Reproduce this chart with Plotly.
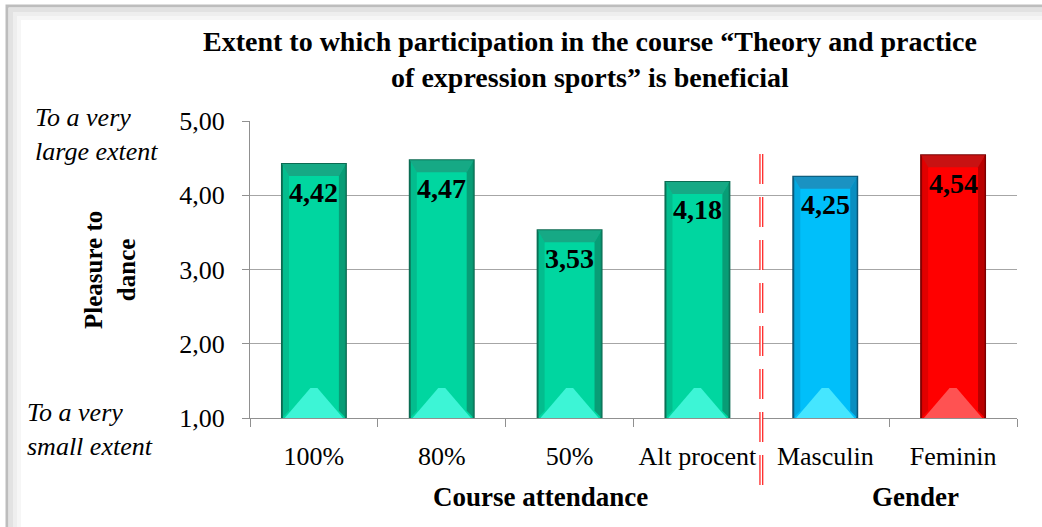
import plotly.graph_objects as go

categories = ["100%", "80%", "50%", "Alt procent", "Masculin", "Feminin"]
values = [4.42, 4.47, 3.53, 4.18, 4.25, 4.54]
bar_colors = ["#00D6A0", "#00D6A0", "#00D6A0", "#00D6A0", "#00BFFA", "#FF0000"]
edge_colors = ["#0B6B52", "#0B6B52", "#0B6B52", "#0B6B52", "#0A4F6B", "#7A0000"]
top_colors = ["#16A985", "#16A985", "#16A985", "#16A985", "#1A92C2", "#C81212"]
light_colors = ["#3DF5D6", "#3DF5D6", "#3DF5D6", "#3DF5D6", "#45E6FF", "#FF5252"]
side_colors = ["#0A8F6C", "#0A8F6C", "#0A8F6C", "#0A8F6C", "#0A82B2", "#A80000"]
y_ticks = [1, 2, 3, 4, 5]
title_text = "Extent to which participation in the course “Theory and practice<br>of expression sports” is beneficial"
y_title = "Pleasure to<br>dance"
group_labels = ["Course attendance", "Gender"]
extent_labels = ["To a very<br>large extent", "To a very<br>small extent"]

W, H = 1042, 527
L, R, T, B = 250, 1017, 121, 418
FONT = "Liberation Serif, Times New Roman, serif"
BAR_W = 0.5
Y0 = 1.0

def px(x):
    return (x - L) / (R - L)

def py(y):
    return (B - y) / (B - T)

# pixel -> data-unit conversions for bevel details
UX = len(categories) / (R - L)      # category units per pixel
UY = (5 - 1) / (B - T)              # value units per pixel

fig = go.Figure()
fig.add_trace(go.Bar(
    x=categories, y=values, width=BAR_W,
    marker=dict(color=bar_colors, line=dict(color=edge_colors, width=2)),
    hoverinfo="skip",
))

shapes = []
for i, v in enumerate(values):
    x0, x1 = i - BAR_W / 2, i + BAR_W / 2
    dx, dy = 7 * UX, 12 * UY
    # top bevel (darker)
    shapes.append(dict(type="path", xref="x", yref="y", layer="above",
                       path=f"M {x0},{v} L {x1},{v} L {x1-dx},{v-dy} L {x0+dx},{v-dy} Z",
                       fillcolor=top_colors[i], line=dict(width=0)))
    # right side (dark)
    shapes.append(dict(type="path", xref="x", yref="y", layer="above",
                       path=f"M {x1},{v} L {x1},{Y0} L {x1-dx},{Y0+dy*0.6} L {x1-dx},{v-dy} Z",
                       fillcolor=side_colors[i], line=dict(width=0), opacity=0.8))
    # left side (slightly dark)
    shapes.append(dict(type="path", xref="x", yref="y", layer="above",
                       path=f"M {x0},{v} L {x0},{Y0} L {x0+dx},{Y0+dy*0.6} L {x0+dx},{v-dy} Z",
                       fillcolor=side_colors[i], line=dict(width=0), opacity=0.35))
    # bottom light pyramid
    shapes.append(dict(type="path", xref="x", yref="y", layer="above",
                       path=f"M {x0+dx*0.4},{Y0} L {x1-dx*0.4},{Y0} L {i+dx*0.5},{Y0+30*UY} L {i-dx*0.5},{Y0+30*UY} Z",
                       fillcolor=light_colors[i], line=dict(width=0)))

annotations = []
for c, v in zip(categories, values):
    annotations.append(dict(
        x=c, y=v, xref="x", yref="y", text=f"{v:.2f}".replace(".", ","),
        showarrow=False, yanchor="middle", yshift=-28,
        font=dict(family=FONT, size=28, color="black", weight="bold"),
    ))

annotations += [
    dict(x=px(590), y=py(60), xref="paper", yref="paper", text=title_text,
         showarrow=False, xanchor="center", yanchor="middle",
         font=dict(family=FONT, size=28, color="black", weight="bold")),
    dict(x=px(110), y=py(270), xref="paper", yref="paper", text=y_title,
         showarrow=False, textangle=-90, xanchor="center", yanchor="middle",
         font=dict(family=FONT, size=25, color="black", weight="bold")),
    dict(x=px(540), y=py(497), xref="paper", yref="paper", text=group_labels[0],
         showarrow=False, xanchor="center", yanchor="middle",
         font=dict(family=FONT, size=27, color="black", weight="bold")),
    dict(x=px(915), y=py(497), xref="paper", yref="paper", text=group_labels[1],
         showarrow=False, xanchor="center", yanchor="middle",
         font=dict(family=FONT, size=27, color="black", weight="bold")),
    dict(x=px(33), y=py(134), xref="paper", yref="paper", text=extent_labels[0],
         showarrow=False, xanchor="left", yanchor="middle", align="left",
         font=dict(family=FONT, size=26, color="black", style="italic")),
    dict(x=px(25), y=py(429), xref="paper", yref="paper", text=extent_labels[1],
         showarrow=False, xanchor="left", yanchor="middle", align="left",
         font=dict(family=FONT, size=26, color="black", style="italic")),
]

# frame bevel
for off, col, w in [(19, "#f6f6f6", 4), (15, "#eeeeee", 4), (11, "#e2e2e2", 4), (7, "#bdbdbd", 3)]:
    shapes.append(dict(type="rect", xref="paper", yref="paper",
                       x0=px(off), x1=px(W + 40), y0=py(H + 40), y1=py(off - 1),
                       line=dict(color=col, width=w), layer="below"))
# separator dashed line (hollow look)
shapes.append(dict(type="line", xref="x", yref="paper", x0=3.5, x1=3.5,
                   y0=py(485), y1=py(143),
                   line=dict(color="#FF2020", width=4, dash="30px,13px")))
shapes.append(dict(type="line", xref="x", yref="paper", x0=3.5, x1=3.5,
                   y0=py(485), y1=py(143),
                   line=dict(color="white", width=1.5, dash="30px,13px")))

fig.update_layout(
    width=W, height=H,
    margin=dict(l=L, r=W - R, t=T, b=H - B, pad=0),
    paper_bgcolor="white", plot_bgcolor="white",
    separators=",.",
    showlegend=False,
    bargap=0.5,
    font=dict(family=FONT, size=22, color="black"),
    annotations=annotations,
    shapes=shapes,
    xaxis=dict(
        type="category", tickson="boundaries", ticks="outside", ticklen=8,
        tickcolor="#909090", showline=True, linecolor="#909090", linewidth=1,
        showgrid=False, tickfont=dict(family=FONT, size=26, color="black"),
        ticklabelstandoff=15,
    ),
    yaxis=dict(
        range=[1, 5], tickvals=y_ticks, tickformat=".2f", ticks="outside",
        ticklen=7, tickcolor="#909090", showline=True, linecolor="#909090",
        linewidth=1, showgrid=True, gridcolor="#a6a6a6", gridwidth=1,
        zeroline=False, tickfont=dict(family=FONT, size=26, color="black"),
        ticklabelstandoff=12,
    ),
)

fig.write_html("out.html", config={"displayModeBar": False},
               post_script="document.body.style.margin='0px';document.body.style.overflow='hidden';")
